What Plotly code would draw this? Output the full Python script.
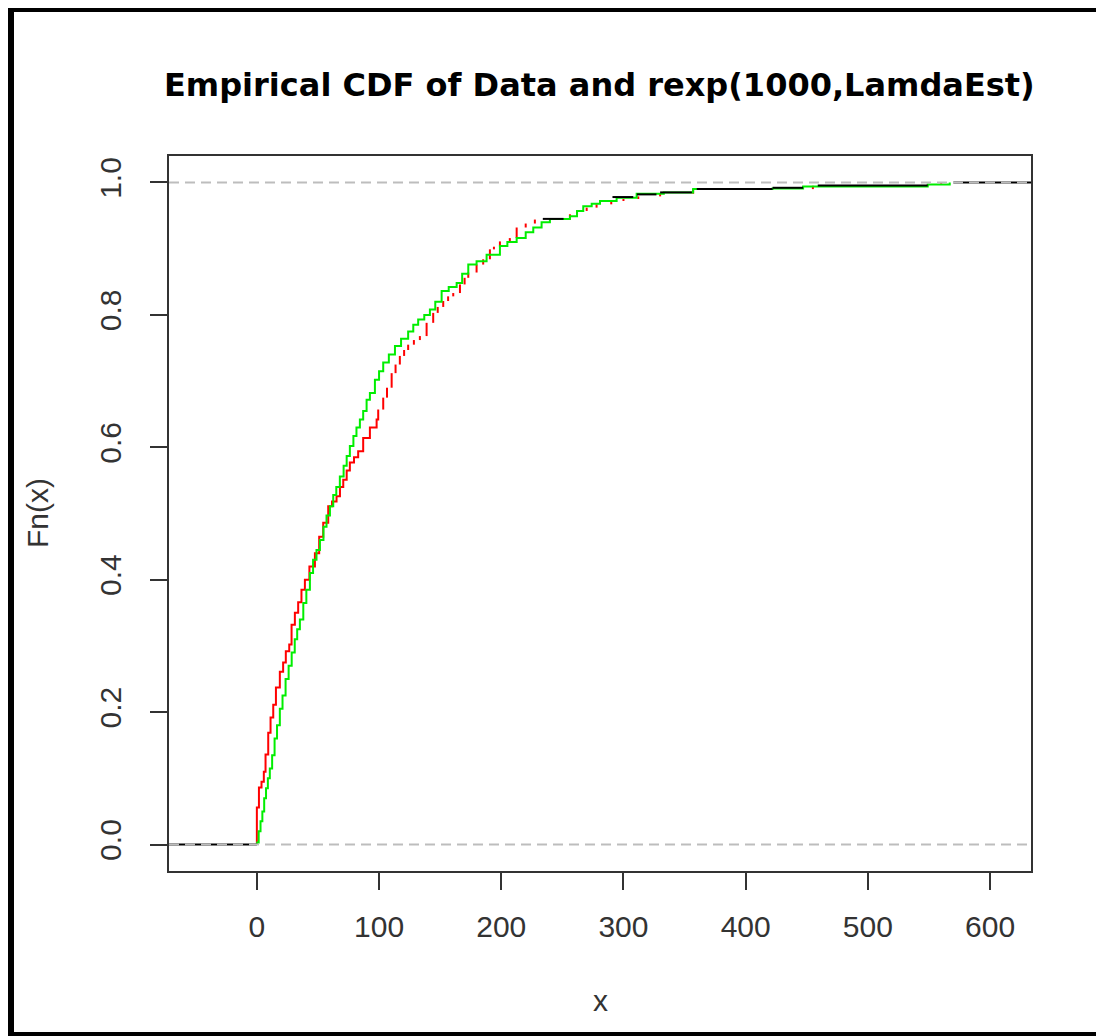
import plotly.graph_objects as go

# ---- data ----
title_text = "Empirical CDF of Data and rexp(1000,LamdaEst)"
x_label = "x"
y_label = "Fn(x)"

x_ticks = [0, 100, 200, 300, 400, 500, 600]
y_ticks = [0.0, 0.2, 0.4, 0.6, 0.8, 1.0]
y_tick_text = ["0.0", "0.2", "0.4", "0.6", "0.8", "1.0"]
x_range = [-71.9, 633.5]
y_range = [-0.04, 1.04]

# ECDF of the data (red) : knot positions and step heights
data_x = [0, 1.7, 3.8, 5.7, 7.1, 9.3, 11.2, 13.4, 15.6, 18.8, 21.5, 23.7, 26.5, 28.4,
          31.1, 33.8, 36.5, 39.3, 43, 47.5, 51, 54.3, 58.4, 61.5, 65.2, 68, 70.7, 73.5,
          76.1, 79.5, 82.9, 87.0, 92.5, 98.0, 99.3, 103.4, 106.5, 110.3, 113.5, 117,
          120.5, 123.8, 128.5, 133.4, 138.9, 144.3, 148, 152.5, 156.5, 160.7, 166.2,
          170, 173, 179.8, 185.2, 190.7, 194, 198.9, 207, 212.6, 220, 227.5, 256.2,
          262, 269.9, 278, 290, 300, 312.1, 330, 357, 455, 549, 560]
data_F = [0.056, 0.086, 0.095, 0.110, 0.136, 0.169, 0.192, 0.211, 0.237, 0.261, 0.275,
          0.292, 0.302, 0.332, 0.350, 0.366, 0.385, 0.400, 0.420, 0.440, 0.465, 0.486,
          0.511, 0.518, 0.526, 0.540, 0.551, 0.565, 0.577, 0.585, 0.594, 0.614, 0.630,
          0.642, 0.657, 0.675, 0.690, 0.712, 0.725, 0.738, 0.747, 0.755, 0.762, 0.768,
          0.788, 0.803, 0.812, 0.821, 0.828, 0.833, 0.846, 0.856, 0.864, 0.876, 0.884,
          0.899, 0.903, 0.911, 0.916, 0.932, 0.938, 0.944, 0.952, 0.957, 0.962, 0.967,
          0.972, 0.975, 0.979, 0.983, 0.990, 0.995, 0.997, 1.0]
# beyond this x the red ECDF only shows its vertical jumps
red_vertical_only_from = 100

# ECDF of rexp(1000, LamdaEst) (green)
sim_x = [0.3, 1.5, 3, 4.5, 6, 7.5, 9, 10.6, 12.5, 14.5, 16.5, 18.8, 21, 23.5, 26, 28.5,
         31, 33, 35.2, 38, 40.5, 43.4, 46, 48.8, 51.6, 54.5, 57, 59.8, 62.5, 65, 67.9,
         71, 73.5, 76.1, 79, 81.5, 84.3, 87, 89.8, 92.5, 96.6, 100, 103.4, 108, 113,
         118, 123.8, 128, 132, 137, 141.6, 146, 151.2, 157, 163.5, 168, 173, 179.8, 188,
         198.9, 205, 212.6, 220, 226.2, 233, 239.8, 256.2, 262, 267.1, 274, 280.8, 294.4,
         310.8, 333, 357, 422, 447, 549, 567]
sim_F = [0.003, 0.02, 0.035, 0.05, 0.07, 0.085, 0.10, 0.115, 0.135, 0.16, 0.18, 0.205,
         0.225, 0.25, 0.27, 0.29, 0.31, 0.325, 0.34, 0.365, 0.385, 0.41, 0.43, 0.445,
         0.46, 0.48, 0.497, 0.511, 0.528, 0.54, 0.556, 0.572, 0.587, 0.602, 0.617, 0.63,
         0.642, 0.655, 0.672, 0.682, 0.702, 0.715, 0.728, 0.74, 0.753, 0.764, 0.775,
         0.785, 0.793, 0.80, 0.808, 0.82, 0.836, 0.842, 0.848, 0.862, 0.876, 0.881,
         0.891, 0.904, 0.91, 0.916, 0.925, 0.932, 0.94, 0.945, 0.949, 0.957, 0.964,
         0.968, 0.972, 0.977, 0.983, 0.985, 0.99, 0.991, 0.994, 0.997, 1.0]

# black horizontal segments visible in the upper tail (start, end, height)
black_x0 = [234, 291, 311, 330, 360, 422, 459]
black_x1 = [251, 308, 327, 356, 422, 447, 549]
black_F = [0.945, 0.978, 0.982, 0.985, 0.990, 0.992, 0.9955]
black_right_start = 570

# page offset: the browser body adds an 8px margin, compensate for it
OFF = 8
W, H = 1104 - OFF, 1036 - OFF

fig = go.Figure()

# red: full steps up to the threshold
lo = [i for i, v in enumerate(data_x) if v <= red_vertical_only_from]
rx = [data_x[0]] + [data_x[i] for i in lo]
ry = [0] + [data_F[i] for i in lo]
fig.add_trace(go.Scatter(x=rx, y=ry, mode="lines", line_shape="hv",
                         line=dict(color="#ff0000", width=2), hoverinfo="skip",
                         showlegend=False))
# red: vertical jumps only beyond the threshold
vx, vy = [], []
for i in range(1, len(data_x)):
    if data_x[i] > red_vertical_only_from:
        vx += [data_x[i], data_x[i], None]
        vy += [data_F[i - 1], data_F[i], None]
fig.add_trace(go.Scatter(x=vx, y=vy, mode="lines",
                         line=dict(color="#ff0000", width=2), hoverinfo="skip",
                         showlegend=False))

fig.add_trace(go.Scatter(
    x=[sim_x[0]] + sim_x, y=[0] + sim_F, mode="lines", line_shape="hv",
    line=dict(color="#00ee00", width=2), hoverinfo="skip", showlegend=False))

# black horizontals
bx, by = [], []
for a, b, f in zip(black_x0, black_x1, black_F):
    bx += [a, b, None]
    by += [f, f, None]
bx += [x_range[0], min(data_x[0], sim_x[0]), None, black_right_start, x_range[1]]
by += [0, 0, None, 1, 1]
fig.add_trace(go.Scatter(
    x=bx, y=by, mode="lines", line=dict(color="#000000", width=2),
    hoverinfo="skip", showlegend=False))

# gray dashed reference lines at 0 and 1
for yv in (0, 1):
    fig.add_shape(type="line", xref="paper", yref="y", x0=0, x1=1, y0=yv, y1=yv,
                  line=dict(color="#bdbdbd", width=2, dash="10px,6px"), layer="above")

# layout in page pixels (reference), converted to figure pixels
L, R, T, B = 169 - OFF, 1031 - OFF, 156 - OFF, 871 - OFF
pw, ph = R - L, B - T
def px(v): return (v - OFF - L) / pw
def py(v): return (B - (v - OFF)) / ph

# outer black frame (page pixel boxes)
for (x0, y0, x1, y1) in [(7, 5, 14, 1036), (7, 5, 1104, 12), (1101, 5, 1104, 1036),
                         (7, 1032, 1104, 1036)]:
    fig.add_shape(type="rect", xref="paper", yref="paper",
                  x0=px(max(x0, OFF)), x1=px(x1), y0=py(y1), y1=py(max(y0, OFF)),
                  fillcolor="black", line=dict(width=0), layer="above")

font_fam = "Liberation Sans, Arial, sans-serif"
fig.update_layout(
    width=W, height=H,
    margin=dict(l=L, r=W - R, t=T, b=H - B),
    paper_bgcolor="white", plot_bgcolor="white",
    font=dict(family=font_fam, color="#333333", size=30),
    showlegend=False,
    xaxis=dict(range=x_range, tickvals=x_ticks, ticks="outside", ticklen=17,
               tickwidth=2, tickcolor="#333333", showline=True, linecolor="#333333",
               linewidth=2, mirror=True, showgrid=False, zeroline=False,
               tickfont=dict(size=30, color="#333333"), ticklabelstandoff=11),
    yaxis=dict(range=y_range, tickvals=y_ticks, ticktext=y_tick_text, ticks="outside",
               ticklen=17, tickwidth=2, tickcolor="#333333", showline=True,
               linecolor="#333333", linewidth=2, mirror=True, showgrid=False,
               zeroline=False, tickangle=-90, tickfont=dict(size=30, color="#333333"),
               ticklabelstandoff=17),
    annotations=[
        dict(text="<b>" + title_text + "</b>", xref="paper", yref="paper",
             x=px(599), y=py(85), xanchor="center", yanchor="middle", showarrow=False,
             font=dict(size=32, color="#000000", family="DejaVu Sans, sans-serif")),
        dict(text=x_label, xref="paper", yref="paper", x=px(600), y=py(1000),
             xanchor="center", yanchor="middle", showarrow=False,
             font=dict(size=30, color="#333333")),
        dict(text=y_label, xref="paper", yref="paper", x=px(37), y=py(513), textangle=-90,
             xanchor="center", yanchor="middle", showarrow=False,
             font=dict(size=30, color="#333333")),
    ],
)

fig.write_html("out.html")
